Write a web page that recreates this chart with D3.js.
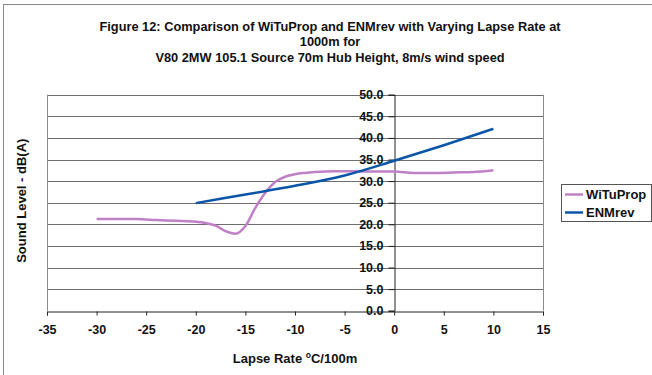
<!DOCTYPE html>
<html>
<head>
<meta charset="utf-8">
<script src="https://cdn.jsdelivr.net/npm/d3@7"></script>
<style>
  html, body { margin: 0; padding: 0; background: #fff; }
  svg { display: block; font-family: "Liberation Sans", Arial, sans-serif; }
</style>
</head>
<body>
<svg id="chart" width="652" height="375"></svg>
<script>
// Lapse rate (°C/100m) and predicted sound level (dB(A)) at 1000 m
const wituLapse = [-30, -28, -26, -24, -22, -20, -19, -18, -17, -16, -15, -14, -13, -12, -11, -10, -9, -8, -6, -4, -2, 0, 2, 4, 6, 8, 10];
const wituLevel = [21.2, 21.2, 21.2, 21.0, 20.8, 20.6, 20.3, 19.7, 18.4, 17.8, 19.6, 23.8, 27.3, 29.8, 31.0, 31.6, 31.9, 32.1, 32.3, 32.3, 32.2, 32.2, 31.9, 31.9, 32.0, 32.1, 32.5];
const enmLapse = [-20, -15, -10, -5, 0, 5, 10];
const enmLevel = [24.9, 26.9, 28.9, 31.3, 34.7, 38.3, 42.1];

const seriesNames = ["WiTuProp", "ENMrev"];
const xTicks = [-35, -30, -25, -20, -15, -10, -5, 0, 5, 10, 15];
const yTicks = [0, 5, 10, 15, 20, 25, 30, 35, 40, 45, 50];

const titleLines = [
  "Figure 12: Comparison of WiTuProp and ENMrev with Varying Lapse Rate at",
  "1000m for",
  "V80 2MW 105.1 Source 70m Hub Height, 8m/s wind speed"
];

const colors = { WiTuProp: "#bf80c6", ENMrev: "#0a55a8" };

const svg = d3.select("#chart");
const plot = { left: 47, right: 543, top: 94.7, bottom: 310.7 };

const x = d3.scaleLinear().domain([-35, 15]).range([plot.left, plot.right]);
const y = d3.scaleLinear().domain([0, 50]).range([plot.bottom, plot.top]);

// frame around the whole figure (left and top edges visible)
svg.append("rect")
  .attr("x", 3.5).attr("y", 4.5).attr("width", 700).attr("height", 400)
  .attr("fill", "#fff").attr("stroke", "#8a8a8a").attr("stroke-width", 1);

// title
svg.append("g").selectAll("text").data(titleLines).join("text")
  .attr("x", 330).attr("y", (d, i) => 30.5 + i * 15.5)
  .attr("text-anchor", "middle")
  .attr("font-size", 12.8).attr("font-weight", "bold").attr("fill", "#111")
  .text(d => d);

// horizontal gridlines
svg.append("g").selectAll("line").data(yTicks.filter(v => v > 0)).join("line")
  .attr("x1", plot.left).attr("x2", plot.right)
  .attr("y1", d => Math.round(y(d)) + 0.5).attr("y2", d => Math.round(y(d)) + 0.5)
  .attr("stroke", "#6e6e6e").attr("stroke-width", 1);

// plot area border (sides)
svg.append("g").selectAll("line").data([plot.left, plot.right]).join("line")
  .attr("x1", d => Math.round(d) + 0.5).attr("x2", d => Math.round(d) + 0.5)
  .attr("y1", y(50)).attr("y2", y(0))
  .attr("stroke", "#8a8a8a").attr("stroke-width", 1);

// x axis along y = 0
const xAxis = svg.append("g")
  .attr("transform", `translate(0,${Math.round(y(0)) + 0.5})`)
  .call(d3.axisBottom(x).tickValues(xTicks).tickSize(4).tickPadding(10).tickFormat(d => String(d)));
xAxis.select(".domain").attr("stroke", "#222");
xAxis.selectAll(".tick line").attr("stroke", "#222");
xAxis.selectAll(".tick text")
  .attr("font-family", "Liberation Sans, Arial, sans-serif")
  .attr("font-size", 12.5).attr("font-weight", "bold").attr("fill", "#111");

// y axis along x = 0
const yAxis = svg.append("g")
  .attr("transform", `translate(${Math.round(x(0)) + 0.5},0)`)
  .call(d3.axisLeft(y).tickValues(yTicks).tickSize(6).tickPadding(5).tickFormat(d3.format(".1f")));
yAxis.select(".domain").attr("stroke", "#222");
yAxis.selectAll(".tick line").attr("stroke", "#222");
yAxis.selectAll(".tick text")
  .attr("font-family", "Liberation Sans, Arial, sans-serif")
  .attr("font-size", 12.5).attr("font-weight", "bold").attr("fill", "#111");

// axis titles
svg.append("text")
  .attr("x", (plot.left + plot.right) / 2).attr("y", 363)
  .attr("text-anchor", "middle").attr("font-size", 13).attr("font-weight", "bold").attr("fill", "#111")
  .call(t => {
    t.append("tspan").text("Lapse Rate ");
    t.append("tspan").attr("font-size", 8.5).attr("dy", -5).text("o");
    t.append("tspan").attr("dy", 5).text("C/100m");
  });

svg.append("text")
  .attr("transform", `translate(26,${(plot.top + plot.bottom) / 2 - 2}) rotate(-90)`)
  .attr("text-anchor", "middle").attr("font-size", 13).attr("font-weight", "bold").attr("fill", "#111")
  .text("Sound Level - dB(A)");

// series lines
const line = d3.line().x(d => x(d[0])).y(d => y(d[1])).curve(d3.curveMonotoneX);
const wituData = wituLapse.map((v, i) => [v, wituLevel[i]]);
const enmData = enmLapse.map((v, i) => [v, enmLevel[i]]);

svg.append("path").datum(wituData)
  .attr("d", line).attr("fill", "none")
  .attr("stroke", colors.WiTuProp).attr("stroke-width", 2.5).attr("stroke-linejoin", "round");
svg.append("path").datum(enmData)
  .attr("d", line).attr("fill", "none")
  .attr("stroke", colors.ENMrev).attr("stroke-width", 2.5).attr("stroke-linejoin", "round");

// legend
const legend = svg.append("g");
legend.append("rect")
  .attr("x", 561.5).attr("y", 184.5).attr("width", 90).attr("height", 37)
  .attr("fill", "#fff").attr("stroke", "#555").attr("stroke-width", 1);
const items = legend.selectAll("g").data(seriesNames).join("g")
  .attr("transform", (d, i) => `translate(0,${194.5 + i * 18})`);
items.append("line")
  .attr("x1", 565).attr("x2", 583)
  .attr("stroke", d => colors[d]).attr("stroke-width", 2.5);
items.append("text")
  .attr("x", 586).attr("dy", "0.35em")
  .attr("font-size", 13).attr("font-weight", "bold").attr("fill", "#111")
  .text(d => d);
</script>
</body>
</html>
